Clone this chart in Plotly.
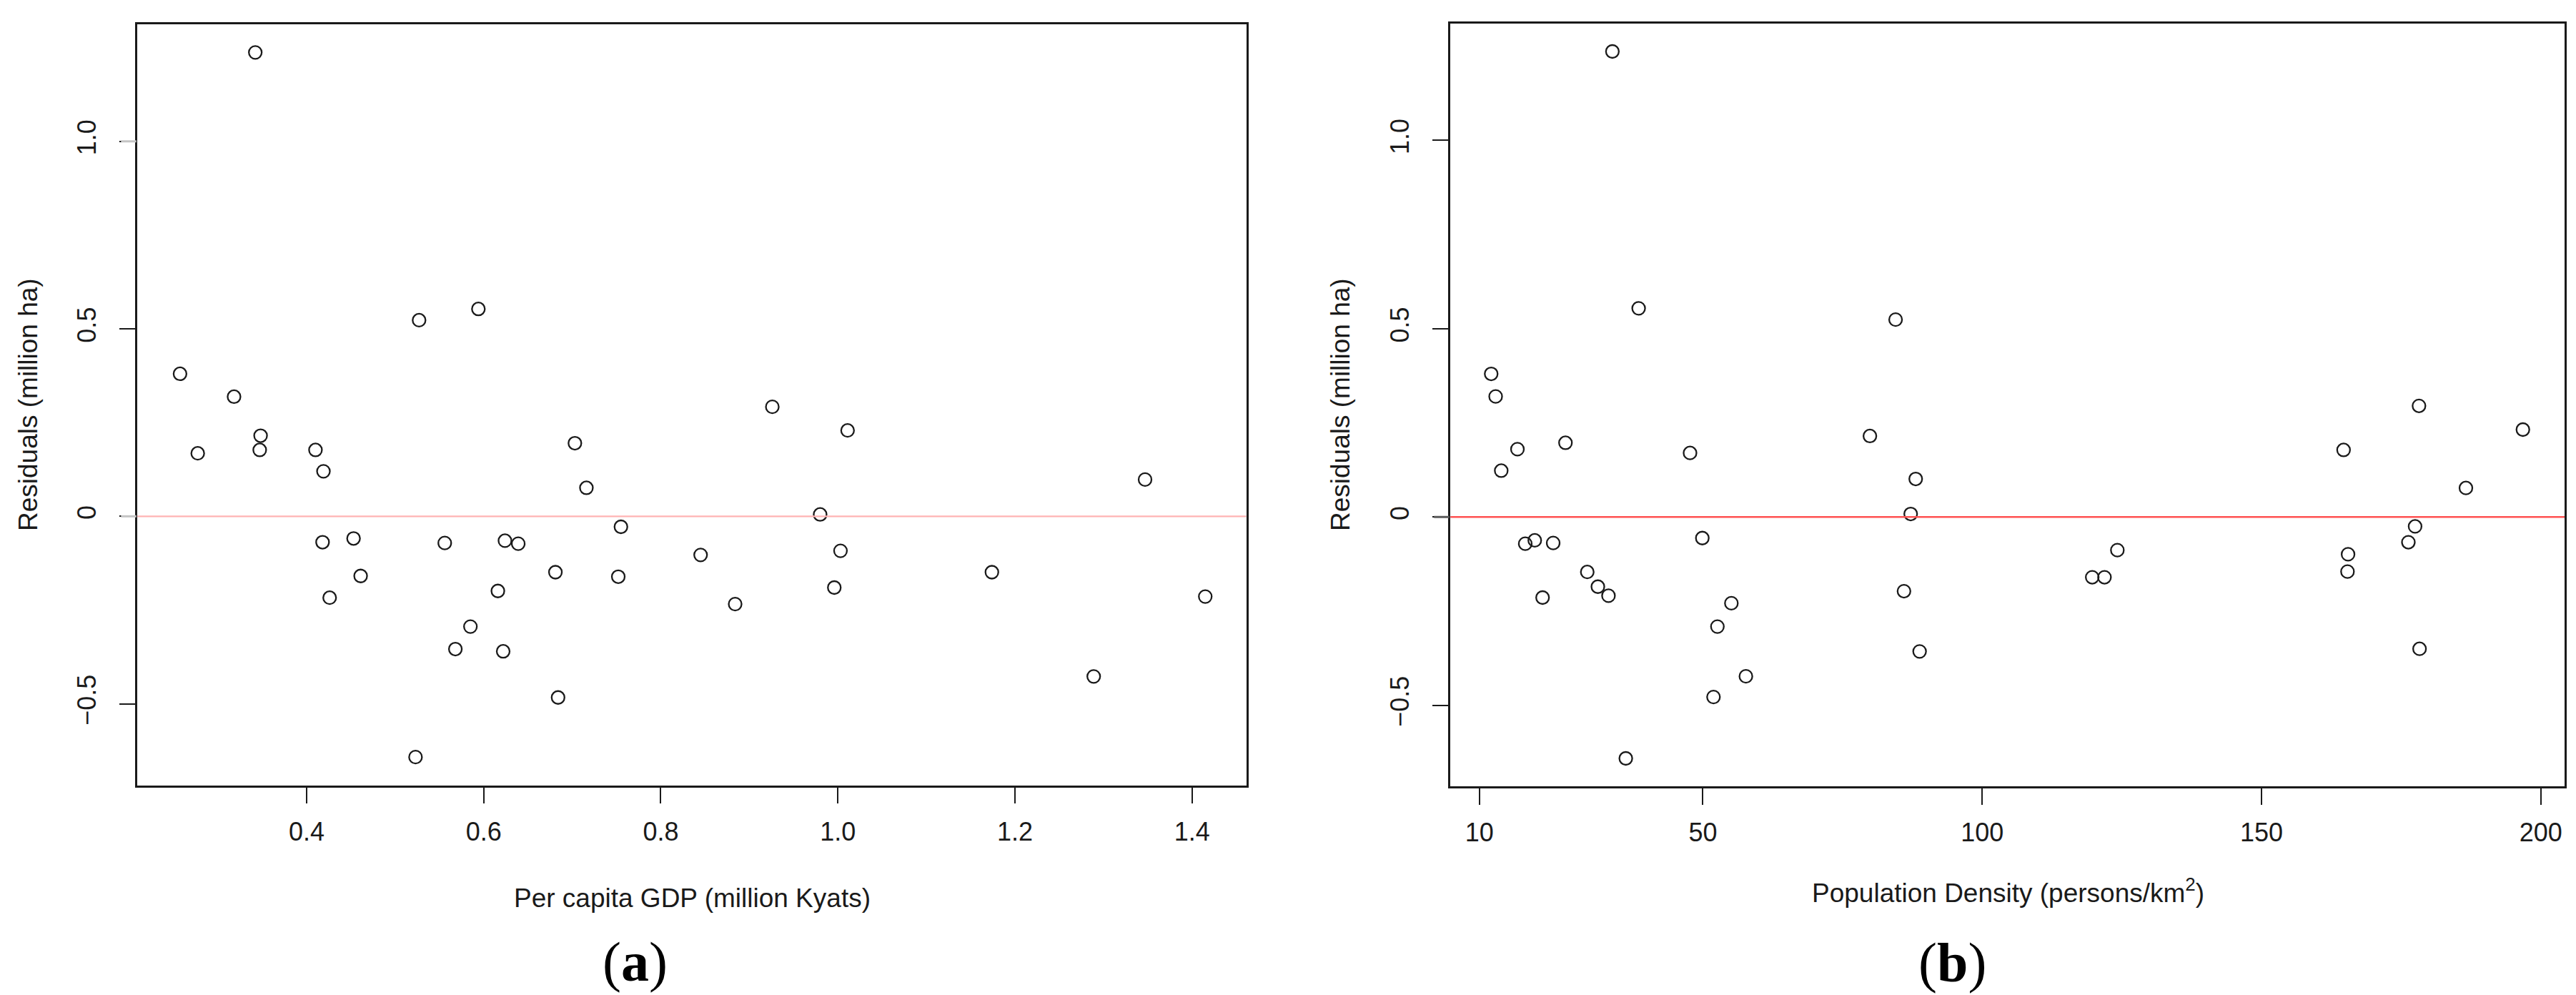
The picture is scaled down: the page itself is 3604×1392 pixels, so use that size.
import plotly.graph_objects as go

# ---- data: panel (a) residuals vs per capita GDP ----
gdp_x = [0.257, 0.277, 0.318, 0.342, 0.348, 0.347, 0.410, 0.419, 0.418, 0.426,
         0.453, 0.461, 0.523, 0.527, 0.556, 0.568, 0.585, 0.594, 0.616, 0.622,
         0.624, 0.639, 0.681, 0.684, 0.703, 0.716, 0.752, 0.755, 0.845, 0.884,
         0.926, 0.980, 0.996, 1.003, 1.011, 1.174, 1.289, 1.347, 1.415]
gdp_res = [0.380, 0.168, 0.319, 1.237, 0.215, 0.177, 0.177, 0.120, -0.069, -0.217,
           -0.059, -0.159, -0.642, 0.523, -0.071, -0.354, -0.294, 0.553, -0.199, -0.360,
           -0.065, -0.073, -0.149, -0.483, 0.195, 0.076, -0.161, -0.028, -0.103, -0.234,
           0.292, 0.005, -0.190, -0.092, 0.229, -0.149, -0.427, 0.098, -0.214]

# ---- data: panel (b) residuals vs population density ----
dens_x = [33.8, 38.5, 12.1, 12.9, 13.9, 16.8, 25.4, 47.7, 84.5, 79.9,
          88.1, 87.2, 18.2, 19.9, 23.2, 21.3, 29.3, 31.2, 33.1, 49.9,
          55.1, 52.6, 57.7, 51.9, 36.2, 86.0, 88.8, 124.2, 119.7, 121.9,
          164.7, 165.5, 165.4, 178.2, 196.8, 186.6, 177.5, 176.3, 178.3]
dens_res = [1.236, 0.554, 0.380, 0.320, 0.123, 0.180, 0.197, 0.170, 0.524, 0.215,
            0.101, 0.008, -0.071, -0.062, -0.069, -0.214, -0.146, -0.185, -0.209, -0.056,
            -0.229, -0.291, -0.423, -0.478, -0.641, -0.197, -0.357, -0.088, -0.160, -0.160,
            0.178, -0.099, -0.145, 0.295, 0.232, 0.077, -0.025, -0.067, -0.350]

gdp_ticks = [0.4, 0.6, 0.8, 1.0, 1.2, 1.4]
gdp_ticktext = ["0.4", "0.6", "0.8", "1.0", "1.2", "1.4"]
dens_ticks = [10, 50, 100, 150, 200]
dens_ticktext = ["10", "50", "100", "150", "200"]
res_ticks = [-0.5, 0, 0.5, 1.0]
res_ticktext = ["\u22120.5", "0", "0.5", "1.0"]

W, H = 3604, 1392
FONT = "Liberation Sans, Arial, sans-serif"
INK = "#1a1a1a"

fig = go.Figure()
marker = dict(symbol="circle-open", size=18, color=INK, line=dict(width=2.3, color=INK))
fig.add_trace(go.Scatter(x=gdp_x, y=gdp_res, mode="markers", marker=marker,
                         xaxis="x", yaxis="y", showlegend=False))
fig.add_trace(go.Scatter(x=dens_x, y=dens_res, mode="markers", marker=marker,
                         xaxis="x2", yaxis="y2", showlegend=False))

def px_x(p):
    return p / W

def px_y(p):
    return 1 - p / H

# panel geometry (pixels)
A = dict(l=184.3, r=1735.6, t=26, b=1090.5)
B = dict(l=2021.3, r=3580.0, t=25, b=1092.0)

axis_common = dict(showgrid=False, zeroline=False, showline=True, mirror=True,
                   linecolor=INK, linewidth=2.6, ticks="outside", ticklen=23,
                   tickwidth=2.4, tickcolor=INK,
                   tickfont=dict(family=FONT, size=36, color=INK))

fig.update_layout(
    width=W, height=H, autosize=False,
    margin=dict(l=0, r=0, t=0, b=0),
    paper_bgcolor="white", plot_bgcolor="white",
    xaxis=dict(domain=[px_x(A["l"]), px_x(A["r"])], range=[0.2089, 1.4613],
               tickvals=gdp_ticks, ticktext=gdp_ticktext, anchor="y",
               ticklabelstandoff=8, **axis_common),
    yaxis=dict(domain=[px_y(A["b"]), px_y(A["t"])], range=[-0.717, 1.312],
               tickvals=res_ticks, ticktext=res_ticktext, tickangle=-90, anchor="x",
               ticklabelstandoff=18, **axis_common),
    xaxis2=dict(domain=[px_x(B["l"]), px_x(B["r"])], range=[4.81, 204.26],
                tickvals=dens_ticks, ticktext=dens_ticktext, anchor="y2",
                ticklabelstandoff=8, **axis_common),
    yaxis2=dict(domain=[px_y(B["b"]), px_y(B["t"])], range=[-0.715, 1.310],
                tickvals=res_ticks, ticktext=res_ticktext, tickangle=-90, anchor="x2",
                ticklabelstandoff=18, **axis_common),
)

# zero reference lines
fig.add_shape(type="line", xref="x domain", yref="y", x0=0, x1=1, y0=0, y1=0,
              line=dict(color="#ffb4b4", width=2.2), layer="above")
fig.add_shape(type="line", xref="x2 domain", yref="y2", x0=0, x1=1, y0=0, y1=0,
              line=dict(color="#ff5252", width=2.4), layer="above")
# lighter ticks as in the reference
ta = -23 / (A["r"] - A["l"])
tb = -23 / (B["r"] - B["l"])
for yv in (0, 1.0):
    fig.add_shape(type="line", xref="x domain", yref="y", x0=ta, x1=-0.001,
                  y0=yv, y1=yv, line=dict(color="#c4c4c4", width=3), layer="above")
fig.add_shape(type="line", xref="x2 domain", yref="y2", x0=tb, x1=-0.001,
              y0=0, y1=0, line=dict(color="#5a5a5a", width=3), layer="above")

title_font = dict(family=FONT, size=37, color=INK)
ann = [
    dict(text="Per capita GDP (million Kyats)", x=px_x(960), y=px_y(1248)),
    dict(text="Population Density (persons/km<sup>2</sup>)", x=px_x(2801), y=px_y(1238)),
    dict(text="Residuals (million ha)", x=px_x(31), y=px_y(558), textangle=-90),
    dict(text="Residuals (million ha)", x=px_x(1867), y=px_y(558), textangle=-90),
]
for a in ann:
    fig.add_annotation(xref="paper", yref="paper", showarrow=False,
                       xanchor="center", yanchor="middle", font=title_font, **a)

label_font = dict(family="Liberation Serif, Times New Roman, serif", size=78, color="#000")
fig.add_annotation(text="(<b>a</b>)", x=px_x(880), y=px_y(1337), xref="paper", yref="paper",
                   showarrow=False, xanchor="center", yanchor="middle", font=label_font)
fig.add_annotation(text="(<b>b</b>)", x=px_x(2723), y=px_y(1338), xref="paper", yref="paper",
                   showarrow=False, xanchor="center", yanchor="middle", font=label_font)

fig.write_html("out.html")
